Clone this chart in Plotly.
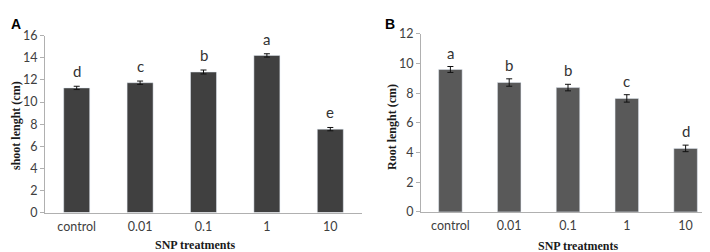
import plotly.graph_objects as go

categories = ["control", "0.01", "0.1", "1", "10"]
shoot_length = [11.28, 11.75, 12.72, 14.22, 7.55]
shoot_err = [0.15, 0.15, 0.18, 0.15, 0.15]
shoot_letters = ["d", "c", "b", "a", "e"]
root_length = [9.6, 8.72, 8.38, 7.65, 4.28]
root_err = [0.2, 0.25, 0.22, 0.25, 0.22]
root_letters = ["a", "b", "b", "c", "d"]

W, H = 710, 252
tick_font = dict(family="Lato, Open Sans, sans-serif", size=12.5, color="#404040")
title_font = dict(family="Liberation Serif, Times New Roman, serif", size=12, color="#1a1a1a")
letter_font = dict(family="Lato, sans-serif", size=15, color="#333333")
axis_col = "#b0b0b0"

fig = go.Figure()
fig.add_trace(go.Bar(x=categories, y=shoot_length, marker_color="#404040", width=0.41,
                     error_y=dict(type="data", array=shoot_err, color="#111111", thickness=1, width=3),
                     xaxis="x", yaxis="y", showlegend=False))
fig.add_trace(go.Bar(x=categories, y=root_length, marker_color="#595959", width=0.40,
                     error_y=dict(type="data", array=root_err, color="#111111", thickness=1, width=3),
                     xaxis="x2", yaxis="y2", showlegend=False))

annotations = []
for i, (v, e, l) in enumerate(zip(shoot_length, shoot_err, shoot_letters)):
    annotations.append(dict(x=i, y=v + e, xref="x", yref="y", text=l, showarrow=False,
                            yanchor="bottom", yshift=4, font=letter_font))
for i, (v, e, l) in enumerate(zip(root_length, root_err, root_letters)):
    annotations.append(dict(x=i, y=v + e, xref="x2", yref="y2", text=l, showarrow=False,
                            yanchor="bottom", yshift=3, font=letter_font))
annotations += [
    dict(x=8 / W, y=1 - 9 / H, xref="paper", yref="paper", text="<b>A</b>", showarrow=False,
         xanchor="center", yanchor="middle", font=dict(family="Liberation Sans, Arial, sans-serif", size=14, color="#000")),
    dict(x=382 / W, y=1 - 8 / H, xref="paper", yref="paper", text="<b>B</b>", showarrow=False,
         xanchor="center", yanchor="middle", font=dict(family="Liberation Sans, Arial, sans-serif", size=14, color="#000")),
    dict(x=187 / W, y=1 - 243 / H, xref="paper", yref="paper", text="<b>SNP treatments</b>", showarrow=False,
         xanchor="center", yanchor="middle", font=title_font),
    dict(x=570 / W, y=1 - 245 / H, xref="paper", yref="paper", text="<b>SNP treatments</b>", showarrow=False,
         xanchor="center", yanchor="middle", font=title_font),
    dict(x=8 / W, y=1 - 117 / H, xref="paper", yref="paper", text="<b>shoot lenght (cm)</b>", showarrow=False,
         textangle=-90, xanchor="center", yanchor="middle", font=title_font),
    dict(x=384 / W, y=1 - 118 / H, xref="paper", yref="paper", text="<b>Root lenght (cm)</b>", showarrow=False,
         textangle=-90, xanchor="center", yanchor="middle", font=title_font),
]

xaxis_common = dict(type="category", range=[-0.5, 4.5], showline=True, linecolor=axis_col, linewidth=1,
                    ticks="outside", ticklen=2, tickcolor="rgba(0,0,0,0)", tickangle=0,
                    tickfont=tick_font, showgrid=False)
yaxis_common = dict(dtick=2, showline=True, linecolor=axis_col, linewidth=1, ticks="outside", ticklen=4,
                    tickcolor=axis_col, tickfont=tick_font, showgrid=False, zeroline=False)

fig.update_layout(
    width=W, height=H, margin=dict(l=0, r=0, t=0, b=0),
    paper_bgcolor="white", plot_bgcolor="white",
    xaxis=dict(domain=[37 / W, 354 / W], anchor="y", **xaxis_common),
    yaxis=dict(domain=[1 - 209 / H, 1 - 21 / H], anchor="x", range=[0, 16], **yaxis_common),
    xaxis2=dict(domain=[413 / W, 707 / W], anchor="y2", **xaxis_common),
    yaxis2=dict(domain=[1 - 208.3 / H, 1 - 19 / H], anchor="x2", range=[0, 12], **yaxis_common),
    annotations=annotations,
)

fig.write_html("out.html")
